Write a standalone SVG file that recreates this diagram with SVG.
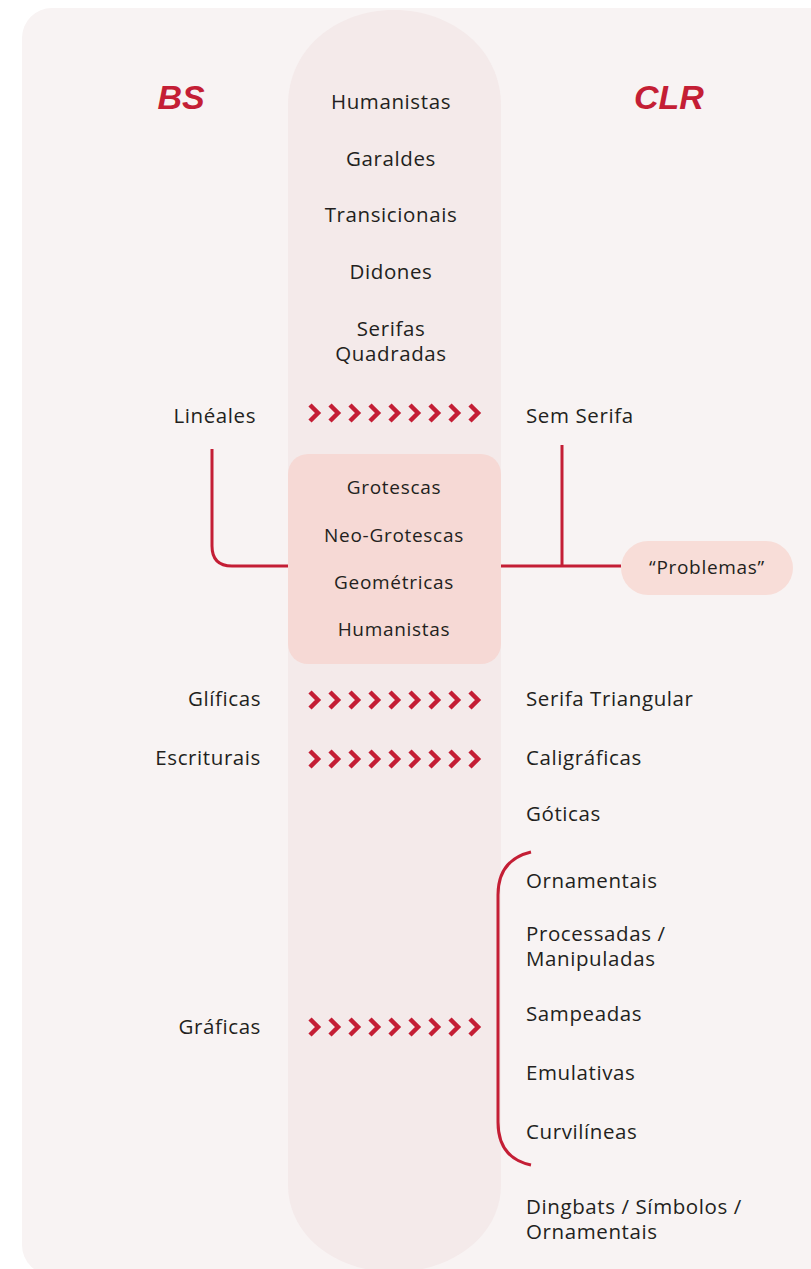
<svg xmlns="http://www.w3.org/2000/svg" width="811" height="1269" viewBox="0 0 811 1269">
<style>
.t{font-family:"Open Sans","Liberation Sans",sans-serif;font-size:20.5px;letter-spacing:0.6px;fill:#231f20}
.s{font-size:19px;letter-spacing:0.7px}
.c{text-anchor:middle}
.r{text-anchor:end}
.h{font-family:"Liberation Sans",sans-serif;font-size:34px;font-weight:bold;font-style:italic;fill:#c41e35;text-anchor:middle}
.ln{fill:none;stroke:#c41e35;stroke-width:3}
.ch{fill:none;stroke:#c41e35;stroke-width:4.5}
</style>
<defs>
<path id="chev" d="M-2,-8 L6,0 L-2,8" class="ch"/>
<g id="row">
<use href="#chev" x="0"/><use href="#chev" x="20"/><use href="#chev" x="40"/><use href="#chev" x="60"/><use href="#chev" x="80"/><use href="#chev" x="100"/><use href="#chev" x="120"/><use href="#chev" x="140"/><use href="#chev" x="160"/>
</g>
</defs>
<rect width="811" height="1269" fill="#ffffff"/>
<rect id="card" x="22" y="8" width="830" height="1267" rx="30" fill="#f8f3f3"/>
<path id="column" d="M288,105 C288,50 335,10 394,10 C453,10 501,50 501,105 L501,1185 C501,1235 453,1272 394,1272 C335,1272 288,1235 288,1185 Z" fill="#f4eaea"/>

<g id="headers">
<text class="h" x="181" y="109">BS</text>
<text class="h" x="669" y="109">CLR</text>
</g>

<g id="serif-list">
<text class="t c" x="391" y="109">Humanistas</text>
<text class="t c" x="391" y="166">Garaldes</text>
<text class="t c" x="391" y="222">Transicionais</text>
<text class="t c" x="391" y="279">Didones</text>
<text class="t c" x="391" y="336">Serifas<tspan x="391" dy="25">Quadradas</tspan></text>
</g>

<g id="connectors">
<path class="ln" d="M212,449 L212,546 Q212,566 232,566 L288,566"/>
<path class="ln" d="M501,566 L621,566"/>
<path class="ln" d="M562,445 L562,566"/>
<path class="ln" d="M531,852 Q498,860 498,895 L498,1122 Q498,1158 531,1165"/>
<use href="#row" x="312" y="413"/>
<use href="#row" x="312" y="700"/>
<use href="#row" x="312" y="759"/>
<use href="#row" x="312" y="1027"/>
</g>

<g id="lineales">
<text class="t r" x="256" y="423">Linéales</text>
</g>
<g id="sem-serifa">
<text class="t" x="526" y="423">Sem Serifa</text>
</g>

<g id="sans-box">
<rect x="288" y="454" width="213" height="210" rx="20" fill="#f6d9d5"/>
<text class="t s c" x="394" y="494">Grotescas</text>
<text class="t s c" x="394" y="542">Neo-Grotescas</text>
<text class="t s c" x="394" y="589">Geométricas</text>
<text class="t s c" x="394" y="636">Humanistas</text>
</g>

<g id="problemas">
<rect x="621" y="541" width="172" height="54" rx="27" fill="#f8ddd8"/>
<text class="t s c" x="707" y="574">“Problemas”</text>
</g>

<g id="glificas"><text class="t r" x="261" y="706">Glíficas</text></g>
<g id="serifa-triangular"><text class="t" x="526" y="706">Serifa Triangular</text></g>
<g id="escriturais"><text class="t r" x="261" y="765">Escriturais</text></g>
<g id="caligraficas"><text class="t" x="526" y="765">Caligráficas</text></g>
<g id="goticas"><text class="t" x="526" y="821">Góticas</text></g>
<g id="graficas"><text class="t r" x="261" y="1034">Gráficas</text></g>

<g id="graficas-list">
<text class="t" x="526" y="888">Ornamentais</text>
<text class="t" x="526" y="941">Processadas /<tspan x="526" dy="25">Manipuladas</tspan></text>
<text class="t" x="526" y="1021">Sampeadas</text>
<text class="t" x="526" y="1080">Emulativas</text>
<text class="t" x="526" y="1139">Curvilíneas</text>
</g>

<g id="dingbats">
<text class="t" x="526" y="1214">Dingbats / Símbolos /<tspan x="526" dy="25">Ornamentais</tspan></text>
</g>
</svg>
